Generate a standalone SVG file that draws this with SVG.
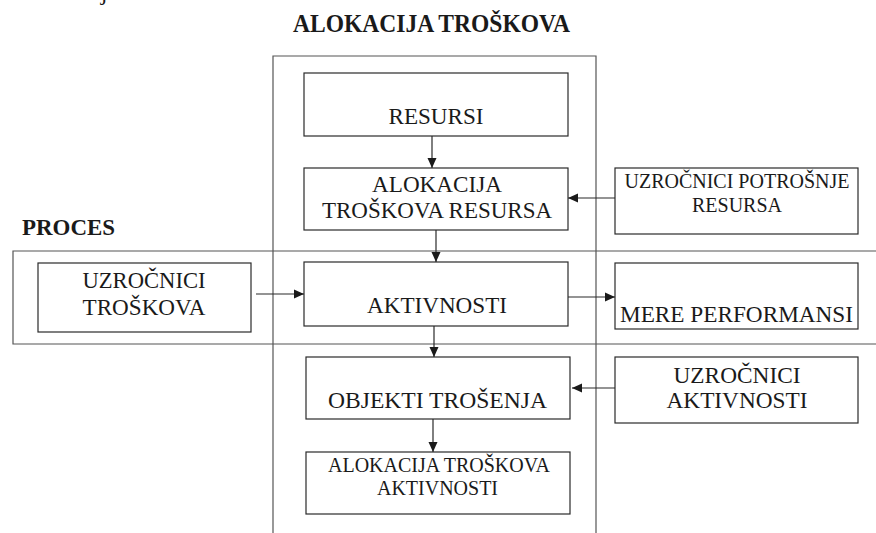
<svg xmlns="http://www.w3.org/2000/svg" width="876" height="533" viewBox="0 0 876 533">
<style>
.box{fill:#fff;stroke:#2a2a2a;stroke-width:1.2}
.frame{fill:none;stroke:#555;stroke-width:1.2}
text{font-family:"Liberation Serif","DejaVu Serif",serif;font-size:24px;fill:#1a1a1a;text-anchor:middle}
.s{font-size:20px}
.b{font-weight:bold;text-anchor:start}
.c{stroke:#2a2a2a;stroke-width:1.2;fill:none;marker-end:url(#ah)}
</style>
<defs>
<marker id="ah" markerUnits="userSpaceOnUse" markerWidth="11" markerHeight="10" refX="10" refY="5" orient="auto">
<path d="M0,0.5 L10,5 L0,9.5 Z" fill="#1a1a1a"/>
</marker>
</defs>
<rect width="876" height="533" fill="#fff"/>
<text x="104" y="0">j</text>
<g id="containers">
<path class="frame" d="M273,533 V56 H596 V533"/>
<path class="frame" d="M878,251 H13 V344 H878"/>
<text class="b" x="293" y="32" style="font-size:25px" textLength="277" lengthAdjust="spacingAndGlyphs">ALOKACIJA TROŠKOVA</text>
<text class="b" x="22" y="235" textLength="93" lengthAdjust="spacingAndGlyphs">PROCES</text>
</g>
<g id="connectors">
<line class="c" x1="432" y1="136" x2="432" y2="168"/>
<line class="c" x1="436" y1="228" x2="436" y2="262"/>
<line class="c" x1="434" y1="326" x2="434" y2="357"/>
<line class="c" x1="433" y1="416" x2="433" y2="452"/>
<line class="c" x1="615" y1="198" x2="568" y2="198"/>
<line class="c" x1="256" y1="294" x2="304" y2="294"/>
<line class="c" x1="567" y1="297" x2="615" y2="297"/>
<line class="c" x1="620" y1="388" x2="572" y2="388"/>
</g>
<g id="resursi">
<rect class="box" x="304" y="73" width="264" height="63"/>
<text x="436" y="124" textLength="95" lengthAdjust="spacingAndGlyphs">RESURSI</text>
</g>
<g id="alokacija-resursa">
<rect class="box" x="304" y="168" width="264" height="62"/>
<text x="437" y="192" textLength="130" lengthAdjust="spacingAndGlyphs">ALOKACIJA</text>
<text x="437" y="218" textLength="230" lengthAdjust="spacingAndGlyphs">TROŠKOVA RESURSA</text>
</g>
<g id="aktivnosti">
<rect class="box" x="304" y="262" width="264" height="64"/>
<text x="437" y="313" textLength="140" lengthAdjust="spacingAndGlyphs">AKTIVNOSTI</text>
</g>
<g id="objekti">
<rect class="box" x="306" y="357" width="264" height="62"/>
<text x="437.5" y="408" textLength="219" lengthAdjust="spacingAndGlyphs">OBJEKTI TROŠENJA</text>
</g>
<g id="alokacija-aktivnosti">
<rect class="box" x="306" y="452" width="264" height="62"/>
<text class="s" x="439" y="472" textLength="222" lengthAdjust="spacingAndGlyphs">ALOKACIJA TROŠKOVA</text>
<text class="s" x="437.5" y="495" textLength="121" lengthAdjust="spacingAndGlyphs">AKTIVNOSTI</text>
</g>
<g id="uzrocnici-troskova">
<rect class="box" x="38" y="263" width="213" height="69"/>
<text x="144" y="288" textLength="123" lengthAdjust="spacingAndGlyphs">UZROČNICI</text>
<text x="144" y="315" textLength="123" lengthAdjust="spacingAndGlyphs">TROŠKOVA</text>
</g>
<g id="uzrocnici-potrosnje">
<rect class="box" x="615" y="168" width="243" height="66"/>
<text class="s" x="737" y="188" textLength="225" lengthAdjust="spacingAndGlyphs">UZROČNICI POTROŠNJE</text>
<text class="s" x="737" y="212">RESURSA</text>
</g>
<g id="mere-performansi">
<rect class="box" x="615" y="263" width="243" height="66"/>
<text x="736.5" y="322" textLength="233" lengthAdjust="spacingAndGlyphs">MERE PERFORMANSI</text>
</g>
<g id="uzrocnici-aktivnosti">
<rect class="box" x="615" y="357" width="243" height="66"/>
<text x="737" y="383" textLength="127" lengthAdjust="spacingAndGlyphs">UZROČNICI</text>
<text x="737" y="408" textLength="141" lengthAdjust="spacingAndGlyphs">AKTIVNOSTI</text>
</g>
</svg>
